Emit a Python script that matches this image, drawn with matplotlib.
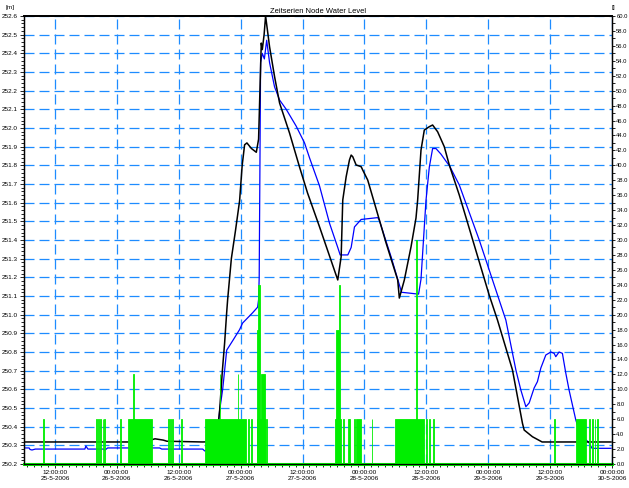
import datetime as dt
import matplotlib
matplotlib.use('Agg')
import matplotlib.pyplot as plt
from matplotlib.ticker import MultipleLocator, FuncFormatter

plt.rcParams['font.family'] = ['Liberation Sans', 'DejaVu Sans']

start = dt.datetime(2006, 5, 25)

# hours after 25-5-2006 00:00
black_t = [6.0, 30.0, 30.8, 31.4, 33.0, 33.7, 40.6, 43.3, 43.94, 44.46, 44.9, 45.29,
           45.48, 46.2, 47.0, 47.8, 48.3, 48.77, 49.22, 50.1, 51.04, 51.48, 52.0,
           52.2, 52.55, 52.84, 53.61, 54.58, 55.55, 57.48, 59.42, 60.97, 63.29,
           66.83, 67.49, 67.8, 68.46, 69.1, 69.43, 69.74, 70.39, 71.36, 71.67,
           72.64, 76.2, 78.45, 78.77, 79.74, 81.04, 82.0, 82.32, 82.97, 83.61,
           84.58, 85.22, 86.19, 87.48, 88.45, 90.39, 93.29, 96.19, 97.8, 100.7,
           102.64, 102.97, 104.58, 106.45, 119.8]
black_h = [250.318, 250.318, 250.33, 250.335, 250.328, 250.322, 250.318, 250.32,
           250.49, 250.70, 250.85, 251.01, 251.08, 251.3, 251.45, 251.61, 251.8,
           251.91, 251.92, 251.89, 251.87, 251.94, 252.455, 252.42, 252.5, 252.6,
           252.435, 252.275, 252.134, 251.973, 251.791, 251.652, 251.471, 251.186,
           251.311, 251.614, 251.739, 251.829, 251.855, 251.846, 251.802, 251.793,
           251.775, 251.721, 251.384, 251.186, 251.089, 251.186, 251.364, 251.518,
           251.614, 251.882, 251.989, 252.007, 252.016, 251.98, 251.9, 251.802,
           251.641, 251.373, 251.105, 250.971, 250.704, 250.418, 250.382, 250.346,
           250.318, 250.318]

blue_t = [6.0, 7.0, 7.16, 7.55, 8.2, 17.8, 18.0, 18.39, 21.4, 21.68, 22.2, 24.0,
          32.3, 32.7, 40.65, 41.03, 43.3, 43.94, 44.52, 45.3, 46.45, 47.8, 48.38,
          50.32, 51.29, 51.48, 51.6, 51.87, 52.2, 52.6, 53.05, 53.61, 54.58, 55.55,
          56.84, 58.77, 60.39, 61.36, 63.29, 65.23, 66.83, 67.3, 68.78, 69.43, 70.07,
          71.36, 74.59, 74.9, 75.88, 77.17, 78.45, 79.2, 82.5, 82.97, 83.93, 84.58,
          85.22, 85.87, 86.84, 88.13, 88.45, 90.39, 94.26, 97.16, 99.42, 101.36,
          102.33, 103.3, 103.94, 104.9, 105.54, 106.2, 107.17, 108.14, 108.78,
          109.1, 109.74, 110.38, 111.04, 111.68, 112.98, 113.61, 114.58, 115.55,
          116.13, 119.8]
blue_h = [250.286, 250.286, 250.278, 250.275, 250.28, 250.28, 250.296, 250.28,
          250.28, 250.274, 250.286, 250.286, 250.286, 250.28, 250.28, 250.27,
          250.28, 250.49, 250.6, 250.81, 250.86, 250.92, 250.955, 251.01, 251.04,
          251.08, 251.2, 252.35, 252.4, 252.37, 252.47, 252.35, 252.22, 252.15,
          252.10, 252.01, 251.92, 251.84, 251.69, 251.49, 251.36, 251.32, 251.32,
          251.36, 251.47, 251.51, 251.52, 251.505, 251.42, 251.31, 251.19, 251.12,
          251.11, 251.19, 251.61, 251.79, 251.89, 251.89, 251.86, 251.81, 251.80,
          251.695, 251.4, 251.159, 250.971, 250.704, 250.596, 250.507, 250.527,
          250.607, 250.641, 250.714, 250.784, 250.80, 250.793, 250.775, 250.80,
          250.793, 250.687, 250.596, 250.436, 250.382, 250.339, 250.314, 250.284,
          250.284]

# rain bars on the right axis: from, to (hours) and value
rain_from = [9.68, 19.94, 20.38, 20.71, 21.23, 21.54, 24.58, 26.19, 27.16, 33.93,
             34.3, 34.7, 36.39, 41.03, 43.94, 47.42, 49.4, 50.0, 51.1, 51.11, 51.42,
             51.87, 52.85, 66.39, 66.53, 67.03, 67.8, 68.77, 69.1, 69.93, 70.39,
             73.41, 78.0, 82.0, 83.93, 84.58, 85.35, 108.78, 112.98, 115.55, 116.19,
             116.65, 117.04]
rain_to = [9.83, 20.09, 20.53, 20.86, 21.38, 21.69, 24.73, 30.84, 27.31, 34.08,
           34.45, 34.85, 36.54, 49.1, 44.09, 47.57, 49.55, 50.15, 52.7, 51.42, 51.69,
           52.7, 53.1, 67.49, 67.03, 67.3, 67.95, 68.92, 69.25, 70.08, 71.36,
           73.56, 83.61, 82.15, 84.08, 84.73, 85.5, 108.93, 114.91, 115.7, 116.34,
           116.8, 117.19]
rain_val = [6, 6, 6, 6, 6, 6, 6, 6, 12, 6, 6, 6, 6, 6, 12, 12, 6, 6, 6, 18, 24,
            12, 6, 6, 18, 24, 6, 6, 6, 6, 6, 6, 6, 30, 6, 6, 6, 6, 6, 6, 6, 6, 6]

major_hours = [12, 24, 36, 48, 60, 72, 84, 96, 108, 120]

fig = plt.figure(figsize=(6.29, 4.88), dpi=100)
ax = fig.add_axes([24 / 629, 24 / 488, 588 / 629, 448 / 488])
ax2 = ax.twinx()

grid_blue = '#1e8cff'
ax.set_xlim(6, 120)
ax.set_ylim(250.2, 252.6)
ax.yaxis.set_major_locator(MultipleLocator(0.1))
ax.yaxis.set_minor_locator(MultipleLocator(0.02))
ax.yaxis.set_major_formatter(FuncFormatter(lambda v, p: f'{v:.1f}'))
ax.set_xticks(major_hours)
ax.xaxis.set_minor_locator(MultipleLocator(4 / 3))


def fmt_time(h, pos):
    d = start + dt.timedelta(hours=float(h))
    return f'{d:%H:%M:%S}\n{d.day}-{d.month}-{d.year}'


ax.xaxis.set_major_formatter(FuncFormatter(fmt_time))
ax.grid(True, which='major', color=grid_blue, linestyle=(0, (8, 4)), linewidth=0.9)

ax.plot(black_t, black_h, color='black', linewidth=1.1, zorder=3)
ax.plot(blue_t, blue_h, color='#0000ff', linewidth=0.9, zorder=2)

green = '#00ee00'
widths = [b - a for a, b in zip(rain_from, rain_to)]
ax2.bar(rain_from, rain_val, width=widths, align='edge', color=green,
        edgecolor=green, linewidth=0.6)
ax2.plot([6, 120], [0, 0], color=green, linewidth=2.2, clip_on=False)
ax2.set_ylim(0, 60)
ax2.yaxis.set_major_locator(MultipleLocator(2))
ax2.yaxis.set_minor_locator(MultipleLocator(1))
ax2.yaxis.set_major_formatter(FuncFormatter(lambda v, p: f'{v:.1f}'))

for a in (ax, ax2):
    for s in a.spines.values():
        s.set_linewidth(0.9)
    a.spines['top'].set_linewidth(1.3)
    a.tick_params(which='both', direction='out', labelsize=4.6, pad=1.5, width=0.6)
    a.tick_params(which='major', length=3)
    a.tick_params(which='minor', length=2)
# right labels sit close to the image edge
ax2.tick_params(axis='y', which='major', labelsize=4.2, pad=0.6, length=2.5)

ax.set_title('Zeitserien Node Water Level', fontsize=5.4, pad=2)
fig.text(6 / 629, 1 - 8 / 488, '[m]', fontsize=4.6, va='center', ha='left')
fig.text(612 / 629, 1 - 8 / 488, '[]', fontsize=4.6, va='center', ha='left')

fig.savefig('out.png', dpi=100)
